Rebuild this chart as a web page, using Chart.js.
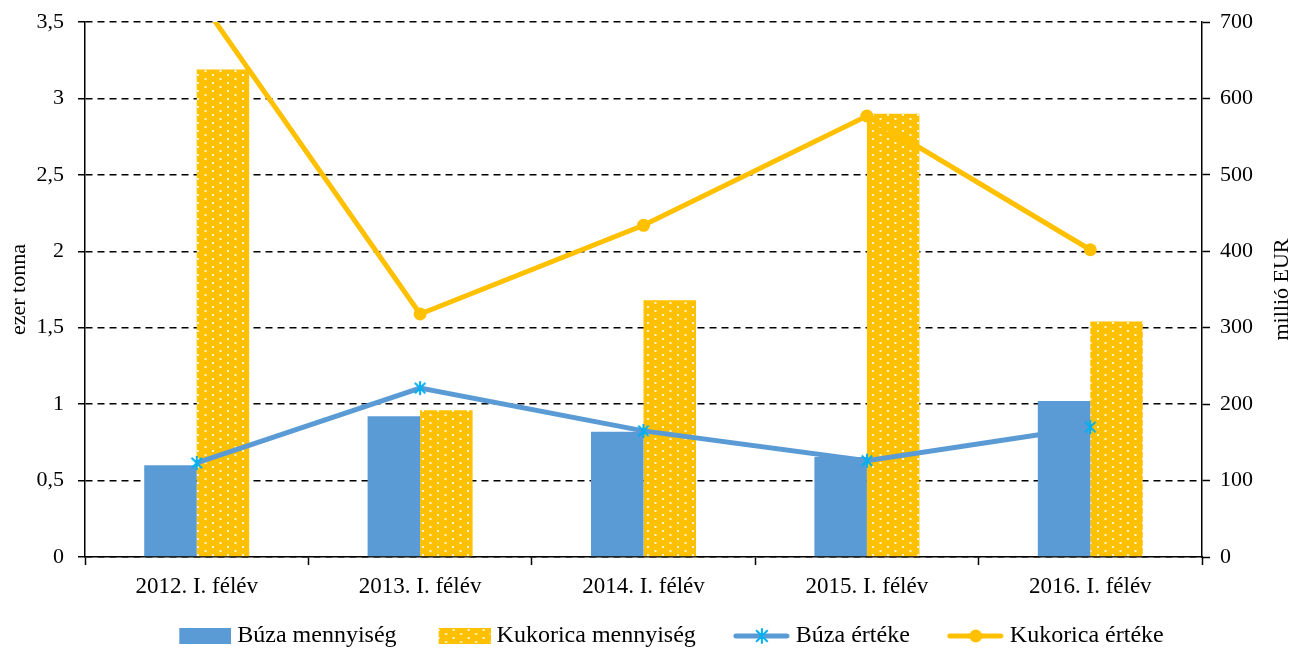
<!DOCTYPE html>
<html>
<head>
<meta charset="utf-8">
<script src="https://cdn.jsdelivr.net/npm/chart.js@4.4.1/dist/chart.umd.min.js"></script>
<style>
    html, body { margin: 0; padding: 0; background: #fff; }
    #wrap { width: 1301px; height: 649px; }
</style>
</head>
<body>
<div id="wrap"><canvas id="myChart"></canvas></div>
<script>
// Data
const categories = ['2012. I. félév', '2013. I. félév', '2014. I. félév', '2015. I. félév', '2016. I. félév'];
const buzaMennyiseg = [0.60, 0.92, 0.82, 0.655, 1.02];
const kukoricaMennyiseg = [3.19, 0.96, 1.68, 2.90, 1.54];
const buzaErteke = [123, 221, 165, 126, 170];
const kukoricaErteke = [735, 318, 434, 577, 402];
const seriesLabels = ['Búza mennyiség', 'Kukorica mennyiség', 'Búza értéke', 'Kukorica értéke'];
const leftTitle = 'ezer tonna';
const rightTitle = 'millió EUR';

// Colours
const BLUE = '#5B9BD5';
const YELLOW = '#FFC000';
const CYAN = '#00B0F0';
const FONT = '"Liberation Serif", "Times New Roman", serif';

// dotted fill for the maize bars (staggered dots)
function makeDotPattern() {
    const tile = document.createElement('canvas');
    tile.width = 15;
    tile.height = 8;
    const t = tile.getContext('2d');
    t.fillStyle = YELLOW;
    t.fillRect(0, 0, 15, 8);
    t.fillStyle = '#FFF4D2';
    t.fillRect(2, 2, 2, 2);
    t.fillRect(9.5, 6, 2, 2);
    return t.createPattern(tile, 'repeat');
}
const dotPattern = makeDotPattern();

function drawAsterisk(ctx, cx, cy, r) {
    ctx.save();
    ctx.strokeStyle = CYAN;
    ctx.lineWidth = 2;
    ctx.beginPath();
    ctx.moveTo(cx, cy - r); ctx.lineTo(cx, cy + r);
    ctx.moveTo(cx - r * 0.75, cy - r * 0.75); ctx.lineTo(cx + r * 0.75, cy + r * 0.75);
    ctx.moveTo(cx - r * 0.75, cy + r * 0.75); ctx.lineTo(cx + r * 0.75, cy - r * 0.75);
    ctx.stroke();
    ctx.restore();
}

function makeAsterisk() {
    const c = document.createElement('canvas');
    c.width = 16;
    c.height = 16;
    drawAsterisk(c.getContext('2d'), 8, 8, 7);
    return c;
}
const asteriskIcon = makeAsterisk();

// legend icons: the canvas is a bit wider than the legend box, graphic at its right edge
const BOX_W = 88;
const ICON_W = BOX_W + 12;
function legendBar(fill) {
    const c = document.createElement('canvas');
    c.width = ICON_W;
    c.height = 18;
    const x = c.getContext('2d');
    x.fillStyle = fill;
    x.fillRect(ICON_W - 52, 1, 52, 16);
    return c;
}
function legendLine(color, marker) {
    const c = document.createElement('canvas');
    c.width = ICON_W;
    c.height = 18;
    const x = c.getContext('2d');
    const mid = ICON_W - 28;
    x.strokeStyle = color;
    x.lineWidth = 5;
    x.lineCap = 'round';
    x.beginPath();
    x.moveTo(ICON_W - 54, 9);
    x.lineTo(ICON_W - 3, 9);
    x.stroke();
    if (marker === 'asterisk') {
        drawAsterisk(x, mid, 9, 7);
    } else {
        x.fillStyle = color;
        x.beginPath();
        x.arc(mid, 9, 6.5, 0, Math.PI * 2);
        x.fill();
    }
    return c;
}
const legendIcons = [
    legendBar(BLUE),
    legendBar(dotPattern),
    legendLine(BLUE, 'asterisk'),
    legendLine(YELLOW, 'circle')
];

// right axis title reads bottom to top, like the left one
const rightTitlePlugin = {
    id: 'rightTitle',
    afterLayout(chart) {
        // push the legend row down to the canvas edge
        chart.legend.top += 9;
        chart.legend.bottom += 9;
    },
    afterDraw(chart) {
        const s = chart.scales.y1;
        const ctx = chart.ctx;
        ctx.save();
        ctx.translate(s.right - 19, (s.top + s.bottom) / 2);
        ctx.rotate(-Math.PI / 2);
        ctx.font = '22px ' + FONT;
        ctx.fillStyle = '#000';
        ctx.textAlign = 'center';
        ctx.textBaseline = 'middle';
        ctx.fillText(rightTitle, 0, 0);
        ctx.restore();
    }
};

function fixYAxis(width) {
    return (scale) => {
        scale.width = width;
        scale.paddingTop = 0;
        scale.paddingBottom = 0;
    };
}

let ctx = document.getElementById('myChart').getContext('2d');
let chart = new Chart(ctx, {
    type: 'bar',
    data: {
        labels: categories,
        datasets: [
            {
                label: seriesLabels[0],
                data: buzaMennyiseg,
                backgroundColor: BLUE,
                yAxisID: 'y',
                order: 2,
                barPercentage: 1,
                categoryPercentage: 0.47
            },
            {
                label: seriesLabels[1],
                data: kukoricaMennyiseg,
                backgroundColor: dotPattern,
                yAxisID: 'y',
                order: 2,
                barPercentage: 1,
                categoryPercentage: 0.47
            },
            {
                type: 'line',
                label: seriesLabels[2],
                data: buzaErteke,
                borderColor: BLUE,
                borderWidth: 5,
                pointStyle: asteriskIcon,
                yAxisID: 'y1',
                order: 1
            },
            {
                type: 'line',
                label: seriesLabels[3],
                data: kukoricaErteke,
                borderColor: YELLOW,
                backgroundColor: YELLOW,
                borderWidth: 5,
                pointStyle: 'circle',
                pointRadius: 6.5,
                pointBorderWidth: 0,
                yAxisID: 'y1',
                order: 1
            }
        ]
    },
    options: {
        responsive: true,
        maintainAspectRatio: false,
        animation: false,
        layout: { padding: { top: 22, left: 0, right: 0, bottom: 0 } },
        plugins: {
            tooltip: { enabled: false },
            legend: {
                position: 'bottom',
                labels: {
                    usePointStyle: true,
                    pointStyleWidth: BOX_W,
                    padding: 0,
                    color: '#000',
                    font: { family: FONT, size: 24 },
                    generateLabels: (c) => c.data.datasets.map((ds, i) => ({
                        text: ds.label,
                        pointStyle: legendIcons[i],
                        fillStyle: 'transparent',
                        strokeStyle: 'transparent',
                        lineWidth: 0,
                        hidden: false,
                        datasetIndex: i,
                        fontColor: '#000'
                    }))
                }
            }
        },
        scales: {
            x: {
                offset: true,
                grid: {
                    offset: true,
                    drawOnChartArea: false,
                    tickLength: 8,
                    tickColor: '#000',
                    tickWidth: 1.5
                },
                border: { color: '#000', width: 1.5 },
                ticks: { color: '#000', padding: 8, font: { family: FONT, size: 23 } },
                afterFit: (scale) => { scale.height = 58; }
            },
            y: {
                position: 'left',
                min: 0,
                max: 3.5,
                grid: {
                    color: '#000',
                    lineWidth: 1.5,
                    tickLength: 7,
                    tickColor: '#000',
                    tickWidth: 1.5
                },
                border: { color: '#000', width: 1.5, dash: [7, 5] },
                ticks: {
                    stepSize: 0.5,
                    color: '#000',
                    padding: 14,
                    font: { family: FONT, size: 22 },
                    callback: (v) => String(v).replace('.', ',')
                },
                title: {
                    display: true,
                    text: leftTitle,
                    color: '#000',
                    padding: { top: 6, bottom: 0 },
                    font: { family: FONT, size: 22 }
                },
                afterFit: fixYAxis(85)
            },
            y1: {
                position: 'right',
                min: 0,
                max: 700,
                grid: {
                    drawOnChartArea: false,
                    tickLength: 8,
                    tickColor: '#000',
                    tickWidth: 1.5
                },
                border: { color: '#000', width: 1.5 },
                ticks: {
                    stepSize: 100,
                    color: '#000',
                    padding: 10,
                    font: { family: FONT, size: 22 }
                },
                afterFit: fixYAxis(99)
            }
        }
    },
    plugins: [rightTitlePlugin]
});
</script>
</body>
</html>
